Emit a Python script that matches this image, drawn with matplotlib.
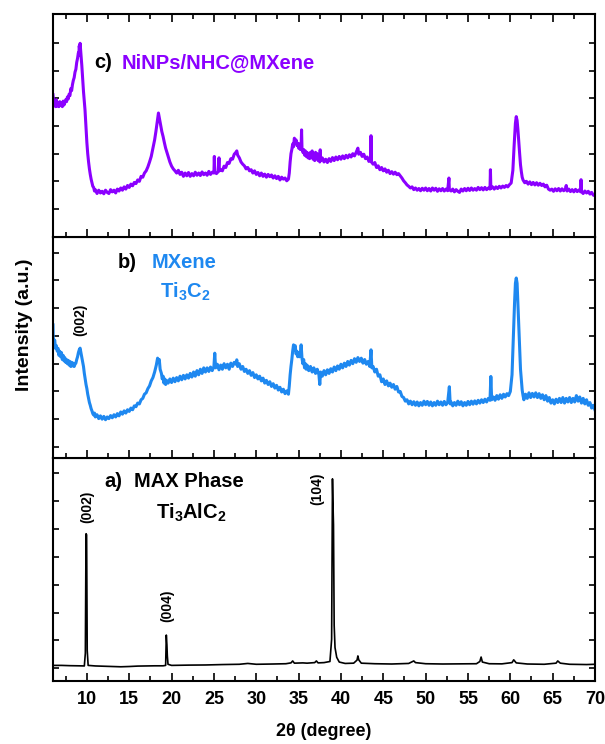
import numpy as np
import matplotlib
matplotlib.use("Agg")
import matplotlib.pyplot as plt
from matplotlib.ticker import MultipleLocator, FixedLocator

plt.rcParams['font.family'] = ['Liberation Sans', 'DejaVu Sans']
plt.rcParams['font.weight'] = 'bold'
plt.rcParams['mathtext.fontset'] = 'custom'
plt.rcParams['mathtext.rm'] = 'Liberation Sans:bold'
plt.rcParams['mathtext.bf'] = 'Liberation Sans:bold'
plt.rcParams['mathtext.default'] = 'bf'

# c) NiNPs/NHC@MXene  (2theta, intensity a.u.)
pattern_c = [
    (6.0, 5130), (6.1, 4750), (6.2, 4900), (6.3, 4700), (6.4, 4950), (6.5, 4720), (6.6, 4850),
    (6.7, 4700), (6.8, 4880), (6.9, 4750), (7.0, 4820), (7.1, 4700), (7.2, 4900), (7.3, 4760),
    (7.4, 4850), (7.5, 4950), (7.6, 4880), (7.7, 5050), (7.8, 4980), (7.9, 5150), (8.0, 5100),
    (8.1, 5350), (8.2, 5280), (8.3, 5500), (8.4, 5650), (8.5, 5750), (8.6, 5950), (8.7, 6050),
    (8.8, 6300), (8.9, 6450), (9.0, 6650), (9.05, 6550), (9.1, 6900), (9.15, 6750), (9.2, 6990),
    (9.25, 6800), (9.3, 6650), (9.4, 6200), (9.5, 5700), (9.6, 5250), (9.7, 4900), (9.78, 4580),
    (9.9, 3950), (10.0, 3400), (10.1, 3000), (10.2, 2700), (10.3, 2450), (10.4, 2250), (10.5, 2080),
    (10.6, 1950), (10.7, 1820), (10.8, 1780), (10.9, 1650), (11.0, 1700), (11.2, 1560), (11.4, 1680),
    (11.6, 1580), (11.8, 1640), (12.0, 1550), (12.2, 1680), (12.4, 1600), (12.6, 1560), (12.8, 1700),
    (13.0, 1620), (13.2, 1680), (13.4, 1580), (13.6, 1720), (13.8, 1650), (14.0, 1760), (14.2, 1680),
    (14.4, 1800), (14.6, 1720), (14.8, 1850), (15.0, 1780), (15.2, 1900), (15.4, 1840), (15.6, 1960),
    (15.8, 1920), (16.0, 2050), (16.2, 2000), (16.4, 2180), (16.6, 2150), (16.8, 2300), (17.0, 2380),
    (17.2, 2520), (17.4, 2700), (17.6, 2900), (17.8, 3200), (18.0, 3500), (18.15, 3800), (18.3, 4150),
    (18.45, 4470), (18.55, 4300), (18.7, 4050), (18.85, 3800), (19.0, 3620), (19.15, 3400),
    (19.3, 3200), (19.45, 3050), (19.6, 2900), (19.8, 2700), (20.0, 2550), (20.2, 2450), (20.4, 2380),
    (20.6, 2300), (20.8, 2400), (21.0, 2250), (21.2, 2330), (21.4, 2180), (21.6, 2300), (21.8, 2200),
    (22.0, 2320), (22.2, 2180), (22.4, 2280), (22.6, 2200), (22.8, 2330), (23.0, 2220), (23.2, 2300),
    (23.4, 2210), (23.6, 2340), (23.8, 2240), (24.0, 2300), (24.2, 2220), (24.4, 2360), (24.6, 2250),
    (24.8, 2330), (25.0, 2300), (25.05, 2900), (25.1, 2350), (25.3, 2280), (25.5, 2350), (25.6, 2850),
    (25.65, 2380), (25.8, 2420), (26.0, 2380), (26.2, 2550), (26.4, 2500), (26.6, 2680), (26.8, 2650),
    (27.0, 2820), (27.2, 2800), (27.4, 2980), (27.6, 3050), (27.7, 3100), (27.8, 2950), (28.0, 2850),
    (28.2, 2700), (28.4, 2620), (28.6, 2560), (28.8, 2450), (29.0, 2500), (29.2, 2380), (29.4, 2420),
    (29.6, 2300), (29.8, 2380), (30.0, 2250), (30.2, 2320), (30.4, 2200), (30.6, 2300), (30.8, 2180),
    (31.0, 2260), (31.2, 2150), (31.4, 2250), (31.6, 2170), (31.8, 2230), (32.0, 2120), (32.2, 2200),
    (32.4, 2100), (32.6, 2180), (32.8, 2050), (33.0, 2150), (33.2, 2080), (33.4, 2120), (33.6, 2020),
    (33.8, 2080), (33.9, 2300), (34.0, 2700), (34.1, 3000), (34.2, 3150), (34.3, 3350), (34.4, 3250),
    (34.5, 3560), (34.6, 3400), (34.7, 3500), (34.8, 3300), (34.9, 3380), (35.0, 3200), (35.1, 3350),
    (35.2, 3150), (35.3, 3280), (35.35, 3860), (35.4, 3200), (35.5, 3050), (35.6, 3150), (35.7, 2950),
    (35.8, 3100), (35.9, 2900), (36.0, 3050), (36.1, 2850), (36.2, 3000), (36.3, 2820), (36.4, 3050),
    (36.5, 2900), (36.6, 3100), (36.7, 2800), (36.8, 2950), (36.9, 2750), (37.0, 3050), (37.1, 2850),
    (37.2, 3000), (37.3, 2750), (37.4, 2850), (37.5, 2700), (37.55, 3140), (37.6, 2750), (37.8, 2850),
    (38.0, 2700), (38.2, 2800), (38.4, 2680), (38.6, 2820), (38.8, 2720), (39.0, 2860), (39.2, 2750),
    (39.4, 2880), (39.6, 2780), (39.8, 2900), (40.0, 2800), (40.2, 2920), (40.4, 2820), (40.6, 2940),
    (40.8, 2850), (41.0, 2960), (41.2, 2880), (41.4, 3000), (41.6, 2920), (41.8, 3050), (42.0, 3200),
    (42.1, 2980), (42.3, 3050), (42.5, 2900), (42.7, 2980), (42.9, 2820), (43.1, 2880), (43.3, 2720),
    (43.5, 2760), (43.55, 3650), (43.6, 2700), (43.8, 2620), (44.0, 2680), (44.2, 2500), (44.4, 2560),
    (44.6, 2420), (44.8, 2500), (45.0, 2380), (45.2, 2450), (45.4, 2330), (45.6, 2400), (45.8, 2280),
    (46.0, 2350), (46.2, 2260), (46.4, 2330), (46.6, 2240), (46.8, 2280), (47.0, 2200), (47.2, 2120),
    (47.4, 2020), (47.6, 1950), (47.8, 1870), (48.0, 1820), (48.2, 1760), (48.4, 1800), (48.6, 1700),
    (48.8, 1760), (49.0, 1680), (49.2, 1740), (49.4, 1660), (49.6, 1750), (49.8, 1680), (50.0, 1760),
    (50.2, 1660), (50.4, 1740), (50.6, 1650), (50.8, 1760), (51.0, 1680), (51.2, 1750), (51.4, 1640),
    (51.6, 1730), (51.8, 1660), (52.0, 1740), (52.2, 1650), (52.4, 1720), (52.6, 1660), (52.75, 2120),
    (52.8, 1700), (53.0, 1650), (53.2, 1720), (53.4, 1620), (53.6, 1700), (53.8, 1640), (54.0, 1600),
    (54.2, 1720), (54.4, 1650), (54.6, 1740), (54.8, 1660), (55.0, 1750), (55.2, 1670), (55.4, 1760),
    (55.6, 1680), (55.8, 1740), (56.0, 1680), (56.2, 1780), (56.4, 1700), (56.6, 1770), (56.8, 1690),
    (57.0, 1780), (57.2, 1700), (57.4, 1760), (57.6, 1720), (57.65, 2420), (57.7, 1740), (57.9, 1800),
    (58.1, 1720), (58.3, 1800), (58.5, 1740), (58.7, 1820), (58.9, 1760), (59.1, 1830), (59.3, 1780),
    (59.5, 1850), (59.7, 1800), (59.9, 1880), (60.1, 1940), (60.3, 2400), (60.45, 3300), (60.6, 4100),
    (60.7, 4340), (60.8, 4200), (60.9, 3850), (61.0, 3400), (61.1, 3000), (61.2, 2600), (61.3, 2350),
    (61.4, 2150), (61.5, 2050), (61.7, 1950), (61.9, 2000), (62.1, 1900), (62.3, 1980), (62.5, 1880),
    (62.7, 1960), (62.9, 1870), (63.1, 1950), (63.3, 1860), (63.5, 1930), (63.7, 1850), (63.9, 1900),
    (64.1, 1800), (64.3, 1860), (64.5, 1720), (64.7, 1680), (64.9, 1720), (65.1, 1640), (65.3, 1730),
    (65.5, 1660), (65.7, 1740), (65.9, 1650), (66.1, 1730), (66.3, 1660), (66.5, 1720), (66.6, 1850),
    (66.7, 1650), (66.9, 1720), (67.1, 1630), (67.3, 1700), (67.5, 1620), (67.7, 1710), (67.9, 1630),
    (68.1, 1690), (68.3, 1620), (68.35, 2060), (68.4, 1640), (68.6, 1560), (68.8, 1650), (69.0, 1580),
    (69.2, 1640), (69.4, 1540), (69.6, 1600), (69.8, 1500), (70.0, 1480),
]

# b) MXene Ti3C2
pattern_b = [
    (6.0, 4800), (6.03, 4300), (6.1, 4100), (6.2, 4250), (6.3, 3950), (6.4, 4050), (6.5, 3850),
    (6.6, 3950), (6.7, 3700), (6.8, 3850), (6.9, 3650), (7.0, 3800), (7.1, 3550), (7.2, 3700),
    (7.3, 3500), (7.4, 3620), (7.5, 3450), (7.6, 3550), (7.7, 3400), (7.8, 3520), (7.9, 3350),
    (8.0, 3480), (8.1, 3300), (8.2, 3450), (8.3, 3320), (8.4, 3420), (8.5, 3300), (8.6, 3380),
    (8.7, 3420), (8.8, 3550), (8.9, 3650), (9.0, 3800), (9.1, 3900), (9.2, 3960), (9.3, 3800),
    (9.4, 3650), (9.5, 3500), (9.6, 3300), (9.7, 3050), (9.8, 2850), (9.9, 2650), (10.0, 2500),
    (10.1, 2300), (10.2, 2150), (10.3, 2000), (10.4, 1900), (10.5, 1780), (10.6, 1700), (10.7, 1600),
    (10.8, 1550), (10.9, 1620), (11.0, 1480), (11.2, 1560), (11.4, 1420), (11.6, 1520), (11.8, 1400),
    (12.0, 1500), (12.2, 1380), (12.4, 1480), (12.6, 1420), (12.8, 1530), (13.0, 1450), (13.2, 1560),
    (13.4, 1480), (13.6, 1600), (13.8, 1520), (14.0, 1660), (14.2, 1580), (14.4, 1700), (14.6, 1620),
    (14.8, 1740), (15.0, 1680), (15.2, 1800), (15.4, 1740), (15.6, 1880), (15.8, 1850), (16.0, 1980),
    (16.2, 1950), (16.4, 2100), (16.6, 2150), (16.8, 2300), (17.0, 2350), (17.2, 2500), (17.4, 2600),
    (17.6, 2780), (17.8, 2900), (18.0, 3100), (18.2, 3350), (18.35, 3600), (18.45, 3450),
    (18.55, 3550), (18.65, 3200), (18.8, 3050), (18.9, 2850), (19.0, 2950), (19.1, 2700), (19.2, 2850),
    (19.3, 2650), (19.4, 2800), (19.6, 2700), (19.8, 2850), (20.0, 2720), (20.2, 2880), (20.4, 2750),
    (20.6, 2900), (20.8, 2780), (21.0, 2950), (21.2, 2820), (21.4, 2980), (21.6, 2850), (21.8, 3000),
    (22.0, 2880), (22.2, 3050), (22.4, 2920), (22.6, 3100), (22.8, 2950), (23.0, 3150), (23.2, 3000),
    (23.4, 3200), (23.6, 3050), (23.8, 3250), (24.0, 3100), (24.2, 3250), (24.4, 3120), (24.6, 3280),
    (24.8, 3150), (25.0, 3300), (25.1, 3780), (25.2, 3250), (25.4, 3380), (25.6, 3180), (25.8, 3350),
    (26.0, 3200), (26.2, 3400), (26.4, 3250), (26.6, 3380), (26.8, 3200), (27.0, 3420), (27.2, 3300),
    (27.4, 3450), (27.6, 3380), (27.7, 3540), (27.8, 3300), (28.0, 3400), (28.2, 3200), (28.4, 3300),
    (28.6, 3120), (28.8, 3200), (29.0, 3050), (29.2, 3150), (29.4, 2980), (29.6, 3080), (29.8, 2900),
    (30.0, 3000), (30.2, 2850), (30.4, 2950), (30.6, 2780), (30.8, 2880), (31.0, 2700), (31.2, 2800),
    (31.4, 2650), (31.6, 2750), (31.8, 2580), (32.0, 2680), (32.2, 2520), (32.4, 2620), (32.6, 2450),
    (32.8, 2550), (33.0, 2380), (33.2, 2480), (33.4, 2320), (33.6, 2420), (33.8, 2300), (33.9, 2600),
    (34.0, 3000), (34.1, 3300), (34.2, 3550), (34.3, 3850), (34.4, 4080), (34.5, 3900), (34.6, 4050),
    (34.7, 3750), (34.8, 3850), (34.9, 3650), (35.0, 3800), (35.1, 3650), (35.2, 3750), (35.3, 4080),
    (35.4, 3600), (35.5, 3400), (35.6, 3550), (35.7, 3250), (35.8, 3400), (35.9, 3200), (36.0, 3350),
    (36.2, 3150), (36.4, 3300), (36.6, 3100), (36.8, 3250), (37.0, 3050), (37.2, 3200), (37.4, 3000),
    (37.5, 2650), (37.6, 3100), (37.8, 2950), (38.0, 3150), (38.2, 3000), (38.4, 3180), (38.6, 3050),
    (38.8, 3220), (39.0, 3100), (39.2, 3280), (39.4, 3150), (39.6, 3320), (39.8, 3200), (40.0, 3380),
    (40.2, 3250), (40.4, 3420), (40.6, 3300), (40.8, 3480), (41.0, 3350), (41.2, 3520), (41.4, 3400),
    (41.6, 3580), (41.8, 3450), (42.0, 3620), (42.2, 3480), (42.4, 3600), (42.6, 3420), (42.8, 3550),
    (43.0, 3380), (43.2, 3480), (43.4, 3300), (43.55, 3900), (43.65, 3250), (43.8, 3300), (44.0, 3100),
    (44.2, 3200), (44.4, 2950), (44.6, 3000), (44.8, 2750), (45.0, 2850), (45.2, 2650), (45.4, 2780),
    (45.6, 2600), (45.8, 2700), (46.0, 2550), (46.2, 2650), (46.4, 2480), (46.6, 2580), (46.8, 2380),
    (47.0, 2400), (47.2, 2220), (47.4, 2180), (47.6, 2050), (47.8, 2100), (48.0, 1950), (48.2, 2050),
    (48.4, 1920), (48.6, 2030), (48.8, 1900), (49.0, 2020), (49.2, 1880), (49.4, 2000), (49.6, 1900),
    (49.8, 2050), (50.0, 1920), (50.2, 2040), (50.4, 1900), (50.6, 2020), (50.8, 1880), (51.0, 2000),
    (51.2, 1900), (51.4, 2050), (51.6, 1920), (51.8, 2020), (52.0, 1900), (52.2, 2040), (52.4, 1920),
    (52.6, 2000), (52.8, 2570), (52.9, 1950), (53.0, 2020), (53.2, 1880), (53.4, 2000), (53.6, 1900),
    (53.8, 2050), (54.0, 1920), (54.2, 2030), (54.4, 1880), (54.6, 2000), (54.8, 1900), (55.0, 2040),
    (55.2, 1920), (55.4, 2050), (55.6, 1940), (55.8, 2060), (56.0, 1950), (56.2, 2080), (56.4, 1980),
    (56.6, 2100), (56.8, 2000), (57.0, 2120), (57.2, 2020), (57.4, 2150), (57.6, 2080), (57.7, 2940),
    (57.8, 2100), (58.0, 2200), (58.2, 2080), (58.4, 2250), (58.6, 2120), (58.8, 2280), (59.0, 2150),
    (59.2, 2300), (59.4, 2200), (59.6, 2320), (59.8, 2250), (60.0, 2400), (60.2, 3000), (60.35, 4300),
    (60.5, 5600), (60.6, 6300), (60.7, 6490), (60.8, 6300), (60.9, 5500), (61.0, 4620), (61.1, 3800),
    (61.2, 3200), (61.3, 2800), (61.4, 2450), (61.5, 2250), (61.6, 2100), (61.8, 2300), (62.0, 2150),
    (62.2, 2350), (62.4, 2180), (62.6, 2330), (62.8, 2200), (63.0, 2350), (63.2, 2180), (63.4, 2320),
    (63.6, 2150), (63.8, 2280), (64.0, 2100), (64.2, 2250), (64.4, 2050), (64.6, 2180), (64.8, 1980),
    (65.0, 2100), (65.2, 1950), (65.4, 2120), (65.6, 2000), (65.8, 2150), (66.0, 2000), (66.2, 2180),
    (66.4, 1980), (66.6, 2150), (66.8, 2020), (67.0, 2180), (67.2, 2000), (67.4, 2150), (67.6, 2020),
    (67.8, 2250), (68.0, 2050), (68.2, 2200), (68.4, 1980), (68.6, 2150), (68.8, 1950), (69.0, 2100),
    (69.2, 1900), (69.4, 2000), (69.6, 1800), (69.8, 1900), (70.0, 1730),
]

# a) MAX phase Ti3AlC2
theta_a = [6.0, 7.0, 8.0, 9.0, 9.7, 9.82, 9.9, 9.97, 10.04, 10.15, 11.0, 12.0, 13.0, 14.0, 15.0,
           16.0, 17.0, 18.0, 19.0, 19.3, 19.38, 19.45, 19.5, 19.58, 20.0, 22.0, 24.0, 26.0, 28.0,
           29.0, 30.0, 32.0, 33.5, 34.1, 34.3, 34.5, 35.5, 36.0, 36.9, 37.1, 37.3, 38.0, 38.7,
           38.9, 39.0, 39.05, 39.12, 39.2, 39.3, 39.5, 39.8, 40.5, 41.5, 41.9, 42.0, 42.1, 42.4,
           44.0, 46.0, 48.0, 48.6, 48.8, 50.0, 52.0, 54.0, 56.0, 56.4, 56.55, 56.7, 57.5, 59.0,
           60.2, 60.4, 60.7, 62.0, 64.0, 65.4, 65.6, 65.9, 67.0, 69.0, 70.0]
int_a = [560, 560, 550, 545, 540, 1000, 5290, 5250, 1100, 560, 540, 530, 520, 510, 520,
         535, 540, 545, 545, 560, 1650, 1300, 900, 600, 560, 570, 575, 590, 600,
         630, 600, 610, 620, 650, 720, 640, 650, 640, 660, 720, 650, 660, 700,
         1500, 7260, 6500, 5610, 2000, 1200, 850, 680, 630, 640, 750, 900, 760, 640,
         620, 610, 630, 720, 660, 620, 610, 615, 620, 700, 860, 680, 620, 615,
         660, 760, 650, 610, 600, 640, 720, 640, 600, 590, 600]

theta_c, int_c = zip(*pattern_c)
theta_b, int_b = zip(*pattern_b)

purple = '#8B00FF'
blue = '#1E88F0'

fig = plt.figure(figsize=(6.05, 7.44), dpi=100)
left, right = 0.0876, 0.9835
bounds = [0.0847, 0.3844, 0.6819, 0.9812]
ax_a = fig.add_axes([left, bounds[0], right - left, bounds[1] - bounds[0]])
ax_b = fig.add_axes([left, bounds[1], right - left, bounds[2] - bounds[1]], sharex=ax_a)
ax_c = fig.add_axes([left, bounds[2], right - left, bounds[3] - bounds[2]], sharex=ax_a)

ax_c.plot(theta_c, int_c, color=purple, lw=2.2)
ax_b.plot(theta_b, int_b, color=blue, lw=2.2)
ax_a.plot(theta_a, int_a, color='black', lw=1.2)

ax_c.set_ylim(0, 8050)
ax_b.set_ylim(0, 7980)
ax_a.set_ylim(0, 8010)
ax_c.yaxis.set_major_locator(FixedLocator(np.arange(1000, 7500, 1000)))
ax_b.yaxis.set_major_locator(FixedLocator(np.arange(400, 7500, 1000)))
ax_a.yaxis.set_major_locator(FixedLocator(np.arange(460, 7500, 1000)))

ax_a.set_xlim(6, 70)
for ax in (ax_a, ax_b, ax_c):
    ax.xaxis.set_major_locator(MultipleLocator(5))
    ax.xaxis.set_minor_locator(MultipleLocator(2.5))
    ax.tick_params(axis='x', which='major', direction='in', length=6, width=1.2,
                   top=(ax is ax_c), bottom=True)
    ax.tick_params(axis='x', which='minor', direction='in', length=3.5, width=1.2,
                   top=(ax is ax_c), bottom=True)
    ax.tick_params(axis='y', which='major', direction='in', length=4, width=1.2,
                   left=True, right=True, labelleft=False)
    for s in ax.spines.values():
        s.set_linewidth(1.5)
for ax in (ax_b, ax_c):
    ax.tick_params(axis='x', labelbottom=False)
ax_a.tick_params(axis='x', labelsize=13, pad=7)
for lab in ax_a.get_xticklabels():
    lab.set_fontweight('bold')

ax_a.set_xlabel('2θ (degree)', fontsize=13, fontweight='bold', labelpad=11)
fig.text(0.041, 0.563, 'Intensity (a.u.)', rotation=90, ha='center', va='center',
         fontsize=14, fontweight='bold')

# panel annotations
ax_c.text(10.9, 6300, 'c)', fontsize=14.5, fontweight='bold', va='center')
ax_c.text(14.1, 6300, 'NiNPs/NHC@MXene', fontsize=14.5, fontweight='bold', color=purple, va='center')

ax_b.text(13.6, 7040, 'b)', fontsize=14.5, fontweight='bold', va='center')
ax_b.text(21.5, 7040, 'MXene', fontsize=14.5, fontweight='bold', color=blue, va='center', ha='center')
ax_b.text(21.6, 5990, r'Ti$_3$C$_2$', fontsize=14.5, fontweight='bold', color=blue, va='center', ha='center')
ax_b.text(9.2, 5000, '(002)', rotation=90, fontsize=10, fontweight='bold', ha='center', va='center')

ax_a.text(12.1, 7150, 'a)', fontsize=14.5, fontweight='bold', va='center')
ax_a.text(22.1, 7150, 'MAX Phase', fontsize=14.5, fontweight='bold', va='center', ha='center')
ax_a.text(22.35, 6050, r'Ti$_3$AlC$_2$', fontsize=14.5, fontweight='bold', va='center', ha='center')
ax_a.text(10.0, 6270, '(002)', rotation=90, fontsize=10, fontweight='bold', ha='center', va='center')
ax_a.text(19.5, 2700, '(004)', rotation=90, fontsize=10, fontweight='bold', ha='center', va='center')
ax_a.text(37.2, 6900, '(104)', rotation=90, fontsize=10, fontweight='bold', ha='center', va='center')

fig.savefig('out.png', dpi=100)
